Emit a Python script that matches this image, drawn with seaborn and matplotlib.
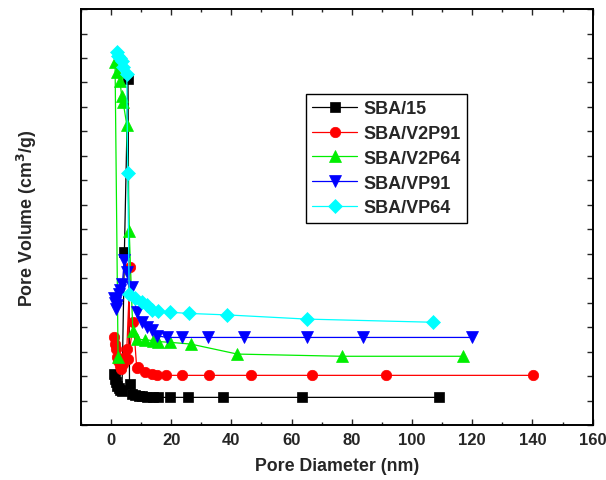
import matplotlib
matplotlib.use("Agg")
import matplotlib.pyplot as plt
from matplotlib.ticker import MultipleLocator, NullFormatter
import seaborn as sns
import pandas as pd

# BJH pore size distributions (pore diameter in nm, pore volume in arbitrary units)
sba15_d = [1.0, 1.3, 1.7, 2.1, 2.6, 3.1, 3.7, 4.5, 5.7, 6.2, 6.9, 8.0, 9.2, 10.5,
           12.0, 14.1, 15.8, 19.6, 25.7, 37.1, 63.4, 109.1]
sba15_v = [0.21, 0.19, 0.175, 0.16, 0.15, 0.145, 0.14, 0.706, 1.414, 0.168, 0.127,
           0.122, 0.119, 0.117, 0.115, 0.113, 0.113, 0.113, 0.113, 0.113, 0.113, 0.113]

v2p91_d = [1.2, 1.4, 1.7, 2.0, 2.4, 2.9, 3.5, 4.2, 4.7, 5.3, 6.4, 5.8, 7.5, 8.6, 9.1,
           11.3, 13.6, 15.2, 18.3, 23.7, 32.7, 46.5, 66.7, 91.4, 140.1]
v2p91_v = [0.36, 0.33, 0.31, 0.28, 0.26, 0.24, 0.23, 0.25, 0.28, 0.31, 0.645, 0.27,
           0.42, 0.232, 0.236, 0.215, 0.208, 0.203, 0.203, 0.203, 0.203, 0.203,
           0.203, 0.203, 0.203]

v2p64_d = [2.4, 1.4, 2.2, 3.0, 3.6, 4.1, 5.3, 6.1, 7.3, 8.6, 11.5, 14.1, 15.8, 19.6,
           26.5, 42.0, 76.7, 116.8]
v2p64_v = [0.28, 1.482, 1.441, 1.407, 1.346, 1.319, 1.226, 0.794, 0.385, 0.351,
           0.348, 0.345, 0.341, 0.338, 0.331, 0.290, 0.281, 0.281]

vp91_d = [1.2, 1.5, 1.8, 2.1, 2.6, 3.2, 3.8, 4.5, 5.3, 7.1, 8.6, 10.3, 11.9, 13.6,
          15.2, 18.6, 23.7, 32.4, 44.2, 65.0, 83.8, 120.0]
vp91_v = [0.52, 0.50, 0.474, 0.49, 0.535, 0.55, 0.576, 0.676, 0.624, 0.563, 0.46,
          0.42, 0.40, 0.39, 0.365, 0.358, 0.358, 0.358, 0.358, 0.358, 0.358, 0.358]

vp64_d = [1.95, 2.5, 3.1, 3.6, 4.1, 5.3, 5.6, 6.1, 8.0, 10.3, 11.9, 13.6, 15.8,
          19.6, 26.1, 38.7, 65.0, 107.1]
vp64_v = [1.523, 1.51, 1.50, 1.489, 1.462, 1.434, 1.03, 0.535, 0.518, 0.501, 0.490,
          0.47, 0.465, 0.461, 0.456, 0.45, 0.433, 0.42]

labels = ["SBA/15", "SBA/V2P91", "SBA/V2P64", "SBA/VP91", "SBA/VP64"]
colors = ["#000000", "#ff0000", "#00ee00", "#0000ff", "#00ffff"]
markers = ["s", "o", "^", "v", "D"]
msizes = [6.5, 7.5, 8, 8, 7]
series = [(sba15_d, sba15_v), (v2p91_d, v2p91_v), (v2p64_d, v2p64_v),
          (vp91_d, vp91_v), (vp64_d, vp64_v)]

sns.set_style("ticks")
plt.rcParams["font.family"] = ["Liberation Sans", "DejaVu Sans"]
plt.rcParams["font.weight"] = "bold"

fig = plt.figure(figsize=(6.06, 4.81), dpi=100)
ax = fig.add_axes([0.1332, 0.1143, 0.8448, 0.8647])

for (d, v), lab, c, m, ms in zip(series, labels, colors, markers, msizes):
    df = pd.DataFrame({"d": d, "v": v})
    sns.lineplot(data=df, x="d", y="v", sort=False, estimator=None, ax=ax,
                 color=c, marker=m, markersize=ms, markeredgecolor=c,
                 markeredgewidth=0.5, linewidth=0.9, label=lab)

ax.set_xlim(-10, 160)
ax.set_ylim(0, 1.7)
ax.xaxis.set_major_locator(MultipleLocator(20))
ax.xaxis.set_minor_locator(MultipleLocator(10))
ax.yaxis.set_major_locator(MultipleLocator(0.1))
ax.yaxis.set_major_formatter(NullFormatter())
ax.tick_params(which="both", direction="in", top=True, right=True, width=1)
ax.tick_params(which="major", length=4, labelsize=12, pad=5)
ax.tick_params(which="minor", length=2.5)
for lbl in ax.get_xticklabels():
    lbl.set_fontweight("bold")
for sp in ax.spines.values():
    sp.set_linewidth(1.4)
    sp.set_color("black")

ax.set_xlabel("Pore Diameter (nm)", fontsize=12.8, fontweight="bold", labelpad=7)
ax.set_ylabel("Pore Volume (cm$^\\mathbf{3}$/g)", fontsize=12.8, fontweight="bold",
              labelpad=25)

leg = ax.legend(loc="upper left", bbox_to_anchor=(0.44, 0.796), frameon=True,
                fancybox=False, edgecolor="black", framealpha=1,
                prop={"size": 13, "weight": "bold"}, handlelength=2.5,
                labelspacing=0.43, borderpad=0.35, handletextpad=0.35,
                borderaxespad=0)
leg.get_frame().set_linewidth(1.0)

fig.savefig("out.png", dpi=100)
